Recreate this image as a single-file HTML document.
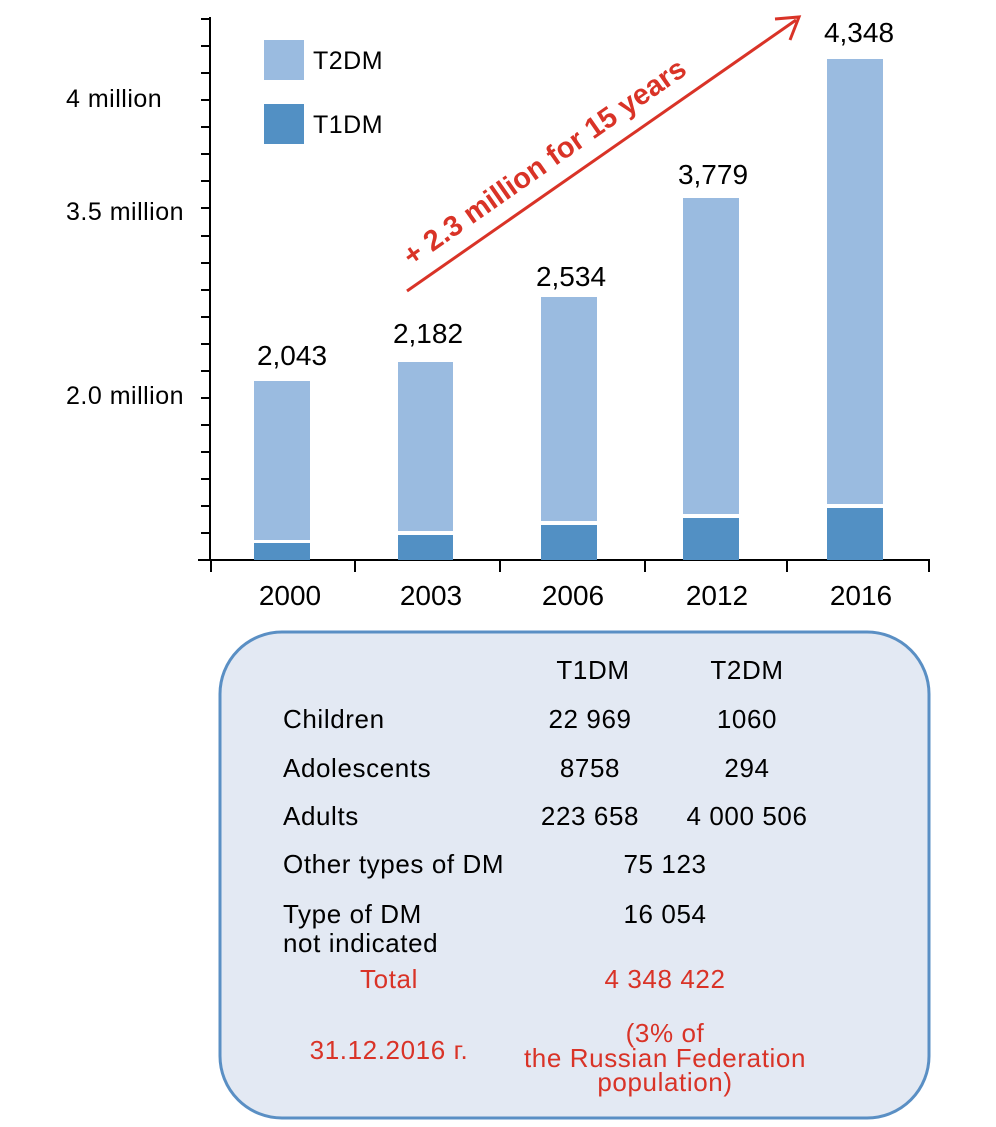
<!DOCTYPE html>
<html><head><meta charset="utf-8"><style>
html,body{margin:0;padding:0;background:#fff;}
svg{display:block;font-family:"Liberation Sans","DejaVu Sans",sans-serif;}
</style></head><body>
<svg width="996" height="1127" viewBox="0 0 996 1127" xmlns="http://www.w3.org/2000/svg">
<line x1="210" y1="17" x2="210" y2="561" stroke="#000" stroke-width="2"/>
<g stroke="#000" stroke-width="2">
<line x1="201" y1="19" x2="210" y2="19"/><line x1="201" y1="46" x2="210" y2="46"/><line x1="201" y1="73" x2="210" y2="73"/><line x1="201" y1="100" x2="210" y2="100"/><line x1="201" y1="127" x2="210" y2="127"/><line x1="201" y1="154" x2="210" y2="154"/><line x1="201" y1="181" x2="210" y2="181"/><line x1="201" y1="208" x2="210" y2="208"/><line x1="201" y1="236" x2="210" y2="236"/><line x1="201" y1="263" x2="210" y2="263"/><line x1="201" y1="290" x2="210" y2="290"/><line x1="201" y1="317" x2="210" y2="317"/><line x1="201" y1="344" x2="210" y2="344"/><line x1="201" y1="371" x2="210" y2="371"/><line x1="201" y1="398" x2="210" y2="398"/><line x1="201" y1="425" x2="210" y2="425"/><line x1="201" y1="452" x2="210" y2="452"/><line x1="201" y1="479" x2="210" y2="479"/><line x1="201" y1="506" x2="210" y2="506"/><line x1="201" y1="533" x2="210" y2="533"/>
<line x1="198" y1="560" x2="930" y2="560"/>
<line x1="211" y1="560" x2="211" y2="572"/><line x1="355" y1="560" x2="355" y2="572"/><line x1="500" y1="560" x2="500" y2="572"/><line x1="645" y1="560" x2="645" y2="572"/><line x1="787" y1="560" x2="787" y2="572"/><line x1="929" y1="560" x2="929" y2="572"/>
</g>
<g font-size="25" fill="#000" letter-spacing="0.5">
<text x="66" y="107">4 million</text>
<text x="66" y="220">3.5 million</text>
<text x="66" y="404">2.0 million</text>
</g>
<rect x="264" y="40" width="40" height="40" fill="#9abbe0"/>
<rect x="264" y="104" width="40" height="40" fill="#5290c4"/>
<text x="313" y="69" font-size="25" letter-spacing="0.5">T2DM</text>
<text x="313" y="133" font-size="25" letter-spacing="0.5">T1DM</text>
<g fill="#9abbe0">
<rect x="254" y="381" width="56" height="159"/>
<rect x="398" y="362" width="55" height="169"/>
<rect x="541" y="297" width="56" height="224"/>
<rect x="683" y="198" width="56" height="316"/>
<rect x="827" y="59" width="56" height="445"/>
</g>
<g fill="#5290c4">
<rect x="254" y="543" width="56" height="17"/>
<rect x="398" y="535" width="55" height="25"/>
<rect x="541" y="525" width="56" height="35"/>
<rect x="683" y="518" width="56" height="42"/>
<rect x="827" y="508" width="56" height="52"/>
</g>
<g font-size="28" text-anchor="middle">
<text x="292" y="365">2,043</text>
<text x="428" y="343">2,182</text>
<text x="571" y="286">2,534</text>
<text x="713" y="184">3,779</text>
<text x="859" y="42">4,348</text>
<text x="290" y="605">2000</text>
<text x="431" y="605">2003</text>
<text x="573" y="605">2006</text>
<text x="717" y="605">2012</text>
<text x="861" y="605">2016</text>
</g>
<line x1="407" y1="291" x2="796" y2="20" stroke="#d93327" stroke-width="3"/>
<polyline points="775,19 799,17 790,40" fill="none" stroke="#d93327" stroke-width="3"/>
<text transform="translate(550,170) rotate(-35)" text-anchor="middle" font-size="29" font-weight="bold" fill="#d93327">+ 2.3 million for 15 years</text>
<rect x="220" y="632" width="709" height="486" rx="62" ry="62" fill="#e3e9f3" stroke="#5a8fc4" stroke-width="3"/>
<g font-size="26" fill="#000" letter-spacing="0.6">
<text x="593" y="679" text-anchor="middle">T1DM</text>
<text x="747" y="679" text-anchor="middle">T2DM</text>
<text x="283" y="728">Children</text>
<text x="283" y="777">Adolescents</text>
<text x="283" y="825">Adults</text>
<text x="283" y="873">Other types of DM</text>
<text x="283" y="923">Type of DM</text>
<text x="283" y="952">not indicated</text>
<g text-anchor="middle">
<text x="590" y="728">22 969</text><text x="747" y="728">1060</text>
<text x="590" y="777">8758</text><text x="747" y="777">294</text>
<text x="590" y="825">223 658</text><text x="747" y="825">4 000 506</text>
<text x="665" y="873">75 123</text>
<text x="665" y="923">16 054</text>
</g>
</g>
<g font-size="26" fill="#d93327" text-anchor="middle" letter-spacing="0.6">
<text x="389" y="988">Total</text>
<text x="665" y="988">4 348 422</text>
<text x="389" y="1059">31.12.2016 г.</text>
<text x="665" y="1042">(3% of</text>
<text x="665" y="1067">the Russian Federation</text>
<text x="665" y="1091">population)</text>
</g>
</svg>
</body></html>
